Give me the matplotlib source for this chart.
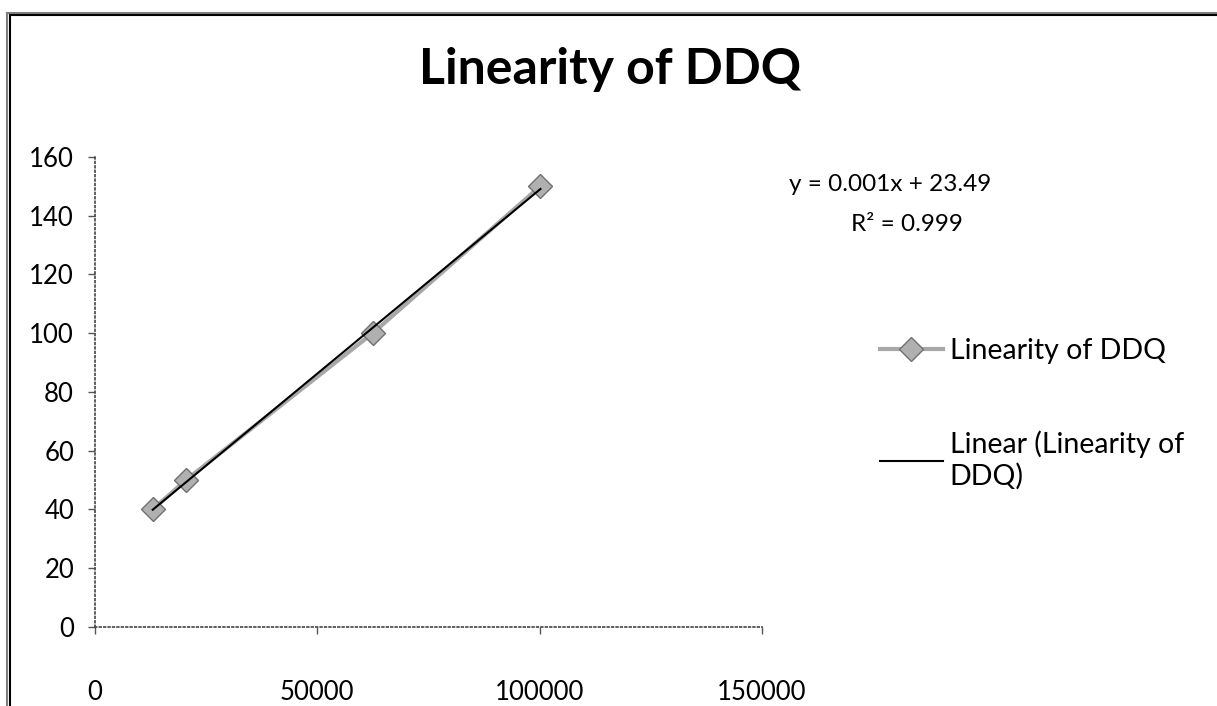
import numpy as np
import matplotlib
matplotlib.use("Agg")
import matplotlib.pyplot as plt
from matplotlib.lines import Line2D

plt.rcParams['font.family'] = ['Lato', 'DejaVu Sans']

# peak area vs concentration
area = [13000, 20500, 62500, 100200]
conc = [40, 50, 100, 150]
x_ticks = [0, 50000, 100000, 150000]
y_ticks = [0, 20, 40, 60, 80, 100, 120, 140, 160]
eq_text = "y = 0.001x + 23.49"
r2_text = "R² = 0.999"

slope, icpt = np.polyfit(area, conc, 1)
fit_x = np.array([min(area), max(area)])
fit_y = slope * fit_x + icpt

W, H = 1217, 706
fig = plt.figure(figsize=(W / 100, H / 100), dpi=100)
ax = fig.add_axes([0.078, 0.112, 0.548, 0.666])

ax.plot(area, conc, color="#a8a8a8", linewidth=3, marker="D", markersize=12,
        markerfacecolor="#b0b0b0", markeredgecolor="#707070", markeredgewidth=1,
        label="Linearity of DDQ", zorder=2)
ax.plot(fit_x, fit_y, color="black", linewidth=1.5,
        label="Linear (Linearity of\nDDQ)", zorder=3)

ax.set_xlim(0, 150000)
ax.set_ylim(0, 160)
ax.set_xticks(x_ticks)
ax.set_yticks(y_ticks)
ax.tick_params(labelsize=18.5, length=5, width=1, color="#555555", pad=10)
ax.tick_params(axis="x", pad=33)
for s in ["top", "right"]:
    ax.spines[s].set_visible(False)
for s in ["left", "bottom"]:
    ax.spines[s].set_linestyle(":")
    ax.spines[s].set_color("#444444")
    ax.spines[s].set_linewidth(1.2)

fig.text(0.501, 0.901, "Linearity of DDQ", ha="center", va="center",
         fontsize=36, fontweight="bold")
fig.text(0.731, 0.738, eq_text, ha="center", va="center", fontsize=17.5)
fig.text(0.745, 0.682, r2_text, ha="center", va="center", fontsize=17.5)

leg = ax.legend(loc="upper left", bbox_to_anchor=(0.702, 0.558),
                bbox_transform=fig.transFigure, frameon=False, fontsize=20.5,
                labelspacing=2.35, handlelength=2.2, handletextpad=0.25,
                borderpad=0.4)

# double border on the left and top edges only
for off, col in [(7, "#808080"), (9.5, "black")]:
    fx = off / W
    fy = 1 - (off + 5.5) / H
    fig.add_artist(Line2D([fx, fx], [0, fy], transform=fig.transFigure,
                          color=col, linewidth=1.5))
    fig.add_artist(Line2D([fx, 1], [fy, fy], transform=fig.transFigure,
                          color=col, linewidth=1.5))

fig.savefig("out.png", dpi=100)
